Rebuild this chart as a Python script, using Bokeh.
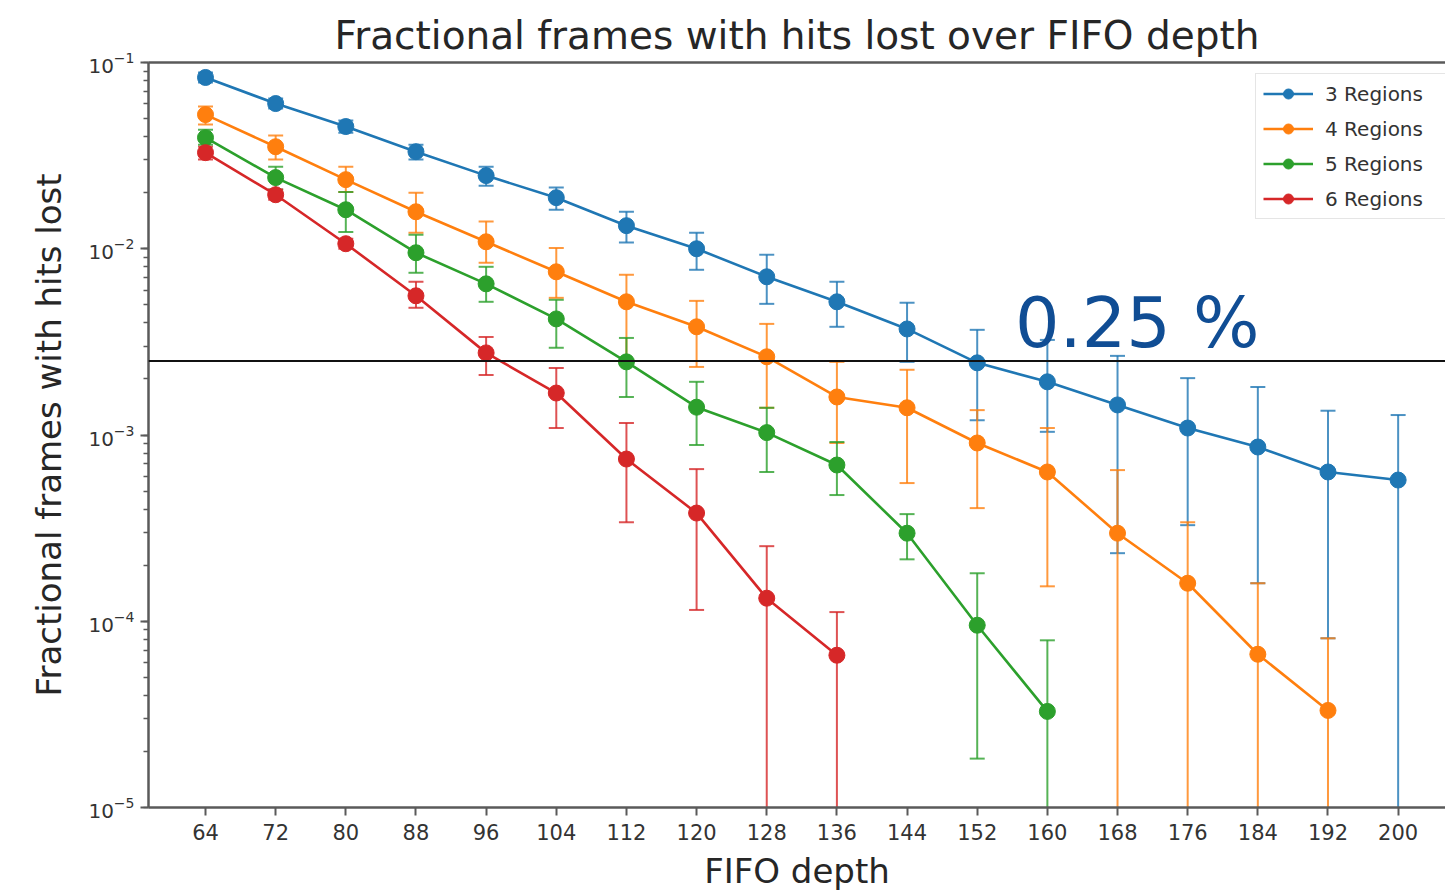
from bokeh.plotting import figure
from bokeh.models import (Range1d, Span, Label, Legend, LegendItem, LinearAxis,
                          FixedTicker, ColumnDataSource)
from bokeh.core.properties import value
from bokeh.embed import file_html
from bokeh.resources import INLINE

# ---------------- data ----------------
fifo_depth = [64, 72, 80, 88, 96, 104, 112, 120, 128, 136, 144, 152, 160, 168, 176, 184, 192, 200]

series_names = ["3 Regions", "4 Regions", "5 Regions", "6 Regions"]
series_colors = ["#1f77b4", "#ff7f0e", "#2ca02c", "#d62728"]

# None in a *_lo list: error bar reaches below the bottom of the axis
regions3_val = [0.0831, 0.0602, 0.0453, 0.0332, 0.0247, 0.0188, 0.0133, 0.0100, 0.00707, 0.00519,
                0.00371, 0.00244, 0.00193, 0.00145, 0.00109, 0.000862, 0.000633, 0.000573]
regions3_hi = [0.0884, 0.0640, 0.0488, 0.0362, 0.0276, 0.0213, 0.0158, 0.0122, 0.00929, 0.00665,
               0.00513, 0.00367, 0.00324, 0.00266, 0.00202, 0.00181, 0.00135, 0.00128]
regions3_lo = [0.0781, 0.0566, 0.0420, 0.0301, 0.0218, 0.0162, 0.0108, 0.00771, 0.00506, 0.00381,
               0.00247, 0.00120, 0.00104, 0.000232, 0.000328, 0.000160, 0.0000810, None]

regions4_val = [0.0525, 0.0353, 0.0235, 0.0158, 0.0109, 0.00752, 0.00519, 0.00381, 0.00263, 0.00160,
                0.00140, 0.000906, 0.000633, 0.000297, 0.000160, 0.0000665, 0.0000332]
regions4_hi = [0.0580, 0.0405, 0.0276, 0.0200, 0.0140, 0.0101, 0.00725, 0.00525, 0.00395, 0.00247,
               0.00224, 0.00136, 0.00109, 0.000648, 0.000340, 0.000160, 0.0000810]
regions4_lo = [0.0464, 0.0301, 0.0202, 0.0122, 0.00841, 0.00545, 0.00244, 0.00232, 0.00140, 0.000906,
               0.000552, 0.000405, 0.000154, None, None, None, None]

regions5_val = [0.0395, 0.0241, 0.0162, 0.00952, 0.00648, 0.00420, 0.00247, 0.00141, 0.00103, 0.000690,
                0.000297, 0.0000952, 0.0000328]
regions5_hi = [0.0436, 0.0276, 0.0202, 0.0119, 0.00800, 0.00532, 0.00332, 0.00193, 0.00140, 0.000917,
               0.000376, 0.000181, 0.0000790]
regions5_lo = [0.0362, 0.0208, 0.0123, 0.00743, 0.00519, 0.00294, 0.00160, 0.000884, 0.000633, 0.000476,
               0.000215, 0.0000183, None]

regions6_val = [0.0328, 0.0195, 0.01064, 0.00559, 0.00276, 0.00168, 0.000743, 0.000381, 0.000133, 0.0000657]
regions6_hi = [0.0353, 0.0208, 0.0113, 0.00665, 0.00336, 0.00229, 0.00116, 0.000656, 0.000253, 0.000112]
regions6_lo = [0.0301, 0.0183, 0.0100, 0.00482, 0.00210, 0.00109, 0.000340, 0.000115, None, None]

threshold = 0.0025
threshold_label = "0.25 %"

title_text = "Fractional frames with hits lost over FIFO depth"
x_label = "FIFO depth"
y_label = "Fractional frames with hits lost"

# ---------------- figure ----------------
Y_MIN, Y_MAX = 1e-5, 1e-1
FONT = "DejaVu Sans"

p = figure(width=1445, height=894, y_axis_type="log",
           x_range=Range1d(57.5, 205.4), y_range=Range1d(Y_MIN, Y_MAX),
           output_backend="svg", toolbar_location=None,
           min_border_left=148, min_border_right=0, min_border_top=62, min_border_bottom=87)

p.background_fill_color = "white"
p.border_fill_color = "white"
p.outline_line_color = None
p.grid.visible = False

p.title.text = title_text
p.title.align = "center"
p.title.text_font = FONT
p.title.text_font_size = "39px"
p.title.text_font_style = "normal"
p.title.text_color = "#262626"

axis_color = "#5a5a5a"
tick_color = "#333333"

# x axis
p.xaxis.ticker = FixedTicker(ticks=fifo_depth)
p.xaxis.axis_label = x_label
p.xaxis.axis_label_text_font = FONT
p.xaxis.axis_label_text_font_size = "34px"
p.xaxis.axis_label_text_font_style = "normal"
p.xaxis.axis_label_text_color = "#262626"
p.xaxis.axis_label_standoff = 8
p.xaxis.major_label_text_font = FONT
p.xaxis.major_label_text_font_size = "21px"
p.xaxis.major_label_text_color = tick_color
p.xaxis.major_label_standoff = 8

# y axis
p.yaxis.ticker.num_minor_ticks = 10
p.yaxis.axis_label = y_label
p.yaxis.axis_label_text_font = FONT
p.yaxis.axis_label_text_font_size = "34px"
p.yaxis.axis_label_text_font_style = "normal"
p.yaxis.axis_label_text_color = "#262626"
p.yaxis.axis_label_standoff = 16
p.yaxis.major_label_text_font = FONT
p.yaxis.major_label_text_font_size = "20px"
p.yaxis.major_label_text_color = tick_color
p.yaxis.major_label_standoff = 6

for ax in (p.xaxis, p.yaxis):
    ax.axis_line_color = axis_color
    ax.axis_line_width = 2.5
    ax.major_tick_line_color = axis_color
    ax.major_tick_line_width = 2
    ax.major_tick_in = 0
    ax.major_tick_out = 8
    ax.minor_tick_line_color = axis_color
    ax.minor_tick_line_width = 1.5
    ax.minor_tick_in = 0
    ax.minor_tick_out = 5
p.xaxis.minor_tick_line_color = None

# top border (frame edge)
top_axis = LinearAxis(ticker=FixedTicker(ticks=[]), axis_line_color=axis_color, axis_line_width=2.5,
                      major_tick_line_color=None, minor_tick_line_color=None,
                      major_label_text_font_size="0px", major_label_standoff=0)
p.add_layout(top_axis, "above")

# ---------------- series ----------------
all_vals = [regions3_val, regions4_val, regions5_val, regions6_val]
all_hi = [regions3_hi, regions4_hi, regions5_hi, regions6_hi]
all_lo = [regions3_lo, regions4_lo, regions5_lo, regions6_lo]

legend_items = []
below_axis = Y_MIN / 100.0
for name, color, vals, his, los in zip(series_names, series_colors, all_vals, all_hi, all_lo):
    xs = fifo_depth[:len(vals)]
    lo_draw = [lo if lo is not None else below_axis for lo in los]
    bars = ColumnDataSource(dict(x=xs, hi=his, lo=lo_draw))
    p.segment(x0="x", y0="lo", x1="x", y1="hi", source=bars,
              line_color=color, line_width=2, line_alpha=0.8)
    p.scatter(x="x", y="hi", source=bars, marker="dash", size=15,
              line_color=color, line_width=2, line_alpha=0.8)
    cap_x = [x for x, lo in zip(xs, los) if lo is not None]
    cap_y = [lo for lo in los if lo is not None]
    p.scatter(x=cap_x, y=cap_y, marker="dash", size=15,
              line_color=color, line_width=2, line_alpha=0.8)
    src = ColumnDataSource(dict(x=xs, y=vals))
    ln = p.line(x="x", y="y", source=src, line_color=color, line_width=2.6)
    pt = p.scatter(x="x", y="y", source=src, marker="circle", size=16,
                   fill_color=color, line_color=color)
    legend_items.append(LegendItem(label=name, renderers=[ln, pt]))

# threshold line and label
p.add_layout(Span(location=threshold, dimension="width", line_color="#111111", line_width=2))
p.add_layout(Label(x=156.3, y=0.0040, text=threshold_label, text_font=FONT,
                   text_font_size="70px", text_color="#104d94", text_baseline="alphabetic"))

legend = Legend(items=legend_items, location=(1107, 588))
legend.label_text_font = FONT
legend.label_text_font_size = "20px"
legend.label_text_color = "#333333"
legend.glyph_width = 50
legend.glyph_height = 25
legend.label_height = 25
legend.label_width = 130
legend.spacing = 10
legend.padding = 7
legend.margin = 0
legend.label_standoff = 12
legend.border_line_color = "#cccccc"
legend.border_line_width = 1.5
legend.background_fill_alpha = 0.85
p.add_layout(legend, "center")

open("out.html", "w").write(file_html(p, INLINE))
